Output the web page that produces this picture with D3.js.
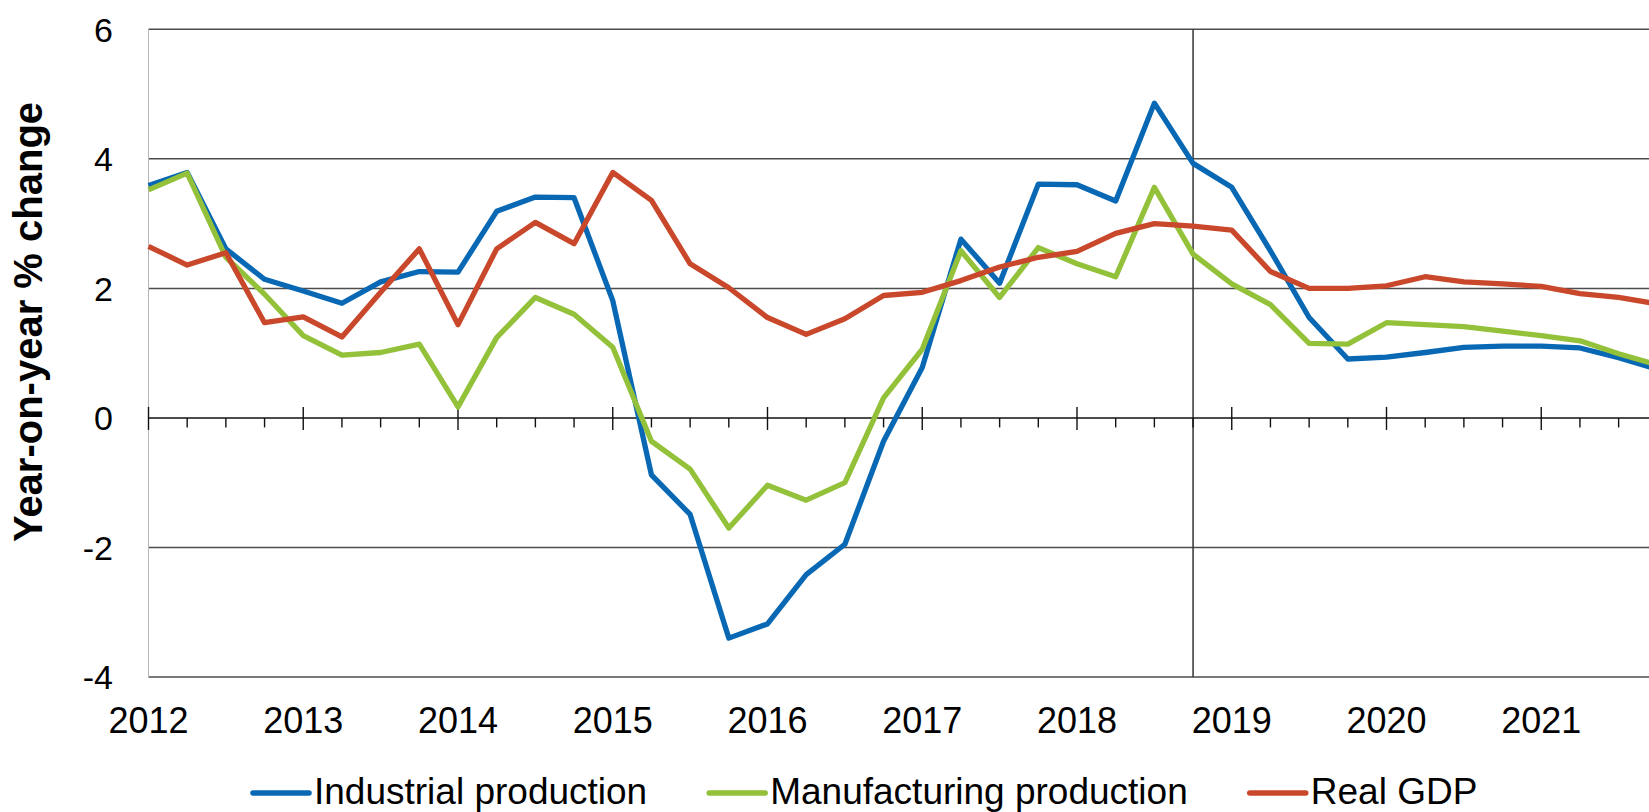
<!DOCTYPE html>
<html>
<head>
<meta charset="utf-8">
<script src="https://cdn.jsdelivr.net/npm/d3@7"></script>
<style>
  body { margin: 0; background: #fff; overflow: hidden; }
  svg { display: block; font-family: "Liberation Sans", Arial, sans-serif; }
</style>
</head>
<body>
<div id="chart-area"></div>
<script>
// quarterly data, 2012 Q1 .. 2021 Q4
const startYear = 2012;
const years = [2012, 2013, 2014, 2015, 2016, 2017, 2018, 2019, 2020, 2021];
const yTicks = [-4, -2, 0, 2, 4, 6];
const forecastStart = 2018.75;

const industrial = [3.59, 3.79, 2.61, 2.14, 1.96, 1.77, 2.10, 2.26, 2.25, 3.19,
  3.41, 3.40, 1.81, -0.88, -1.49, -3.40, -3.18, -2.42, -1.95, -0.36,
  0.78, 2.76, 2.08, 3.61, 3.60, 3.35, 4.86, 3.93, 3.56, 2.58,
  1.55, 0.91, 0.94, 1.01, 1.09, 1.11, 1.11, 1.08, 0.93, 0.75];
const manufacturing = [3.52, 3.78, 2.48, 1.91, 1.27, 0.97, 1.01, 1.14, 0.17, 1.24,
  1.86, 1.60, 1.09, -0.36, -0.79, -1.70, -1.04, -1.27, -1.00, 0.31,
  1.06, 2.58, 1.86, 2.63, 2.38, 2.18, 3.56, 2.53, 2.07, 1.75,
  1.15, 1.14, 1.47, 1.44, 1.41, 1.34, 1.27, 1.19, 0.99, 0.82];
const realGdp = [2.65, 2.36, 2.55, 1.47, 1.56, 1.25, 1.94, 2.61, 1.44, 2.61,
  3.02, 2.69, 3.79, 3.36, 2.38, 2.01, 1.55, 1.29, 1.53, 1.89,
  1.94, 2.12, 2.33, 2.48, 2.57, 2.85, 3.00, 2.96, 2.90, 2.26,
  2.00, 2.00, 2.04, 2.18, 2.10, 2.07, 2.03, 1.92, 1.86, 1.76];

const seriesNames = ["Industrial production", "Manufacturing production", "Real GDP"];
const seriesColors = ["#0868b4", "#93c13a", "#c9472a"];
const seriesValues = [industrial, manufacturing, realGdp];

const W = 1649, H = 812;

const svg = d3.select("#chart-area")
  .append("svg")
  .attr("width", W)
  .attr("height", H);

const x = d3.scaleLinear()
  .domain([2012, 2022])
  .range([148.5, 1696]);

const y = d3.scaleLinear()
  .domain([-4, 6])
  .range([677, 29.3]);

const xEnd = W;

// horizontal gridlines
svg.append("g")
  .selectAll("line")
  .data(yTicks.filter(d => d !== 0))
  .enter()
  .append("line")
  .attr("x1", x(2012))
  .attr("x2", xEnd)
  .attr("y1", d => y(d))
  .attr("y2", d => y(d))
  .attr("stroke", "#4d4d4d")
  .attr("stroke-width", 1.5);

// left axis line (light)
svg.append("line")
  .attr("x1", x(2012)).attr("x2", x(2012))
  .attr("y1", y(6)).attr("y2", y(-4))
  .attr("stroke", "#b5b5b5")
  .attr("stroke-width", 1);

// forecast divider
svg.append("line")
  .attr("x1", x(forecastStart)).attr("x2", x(forecastStart))
  .attr("y1", y(6)).attr("y2", y(-4))
  .attr("stroke", "#333")
  .attr("stroke-width", 1.5);

// y tick labels
svg.append("g")
  .selectAll("text")
  .data(yTicks)
  .enter()
  .append("text")
  .attr("x", 113)
  .attr("y", d => y(d))
  .attr("dy", "0.36em")
  .attr("text-anchor", "end")
  .style("font-size", "34px")
  .attr("fill", "#000")
  .text(d => d);

// y title
svg.append("text")
  .attr("transform", `translate(42,${322}) rotate(-90)`)
  .attr("text-anchor", "middle")
  .style("font-size", "40px")
  .style("font-weight", "bold")
  .attr("fill", "#000")
  .text("Year-on-year % change");

// zero line with quarter ticks
const y0 = y(0);
svg.append("line")
  .attr("x1", x(2012)).attr("x2", xEnd)
  .attr("y1", y0).attr("y2", y0)
  .attr("stroke", "#111")
  .attr("stroke-width", 1.5);

const quarters = d3.range(0, 40).map(i => startYear + i / 4);
svg.append("g")
  .selectAll("line")
  .data(quarters)
  .enter()
  .append("line")
  .attr("x1", d => x(d))
  .attr("x2", d => x(d))
  .attr("y1", d => Number.isInteger(d) ? y0 - 11 : y0)
  .attr("y2", d => Number.isInteger(d) ? y0 + 12 : y0 + 9.5)
  .attr("stroke", "#111")
  .attr("stroke-width", 1.4);

// x labels
svg.append("g")
  .selectAll("text")
  .data(years)
  .enter()
  .append("text")
  .attr("x", d => x(d))
  .attr("y", 733)
  .attr("text-anchor", "middle")
  .style("font-size", "36px")
  .attr("fill", "#000")
  .text(d => d);

// series lines
const line = d3.line()
  .x((d, i) => x(startYear + i / 4))
  .y(d => y(d));

svg.append("g")
  .selectAll("path")
  .data(seriesValues)
  .enter()
  .append("path")
  .attr("d", d => line(d))
  .attr("fill", "none")
  .attr("stroke", (d, i) => seriesColors[i])
  .attr("stroke-width", 5.3)
  .attr("stroke-linejoin", "round");

// legend
const legend = svg.append("g").attr("class", "legend");
let lx = 253;
const legendY = 793;
seriesNames.forEach((name, i) => {
  legend.append("line")
    .attr("x1", lx).attr("x2", lx + 56)
    .attr("y1", legendY).attr("y2", legendY)
    .attr("stroke", seriesColors[i])
    .attr("stroke-width", 5.5)
    .attr("stroke-linecap", "round");
  const t = legend.append("text")
    .attr("x", lx + 61)
    .attr("y", 804)
    .style("font-size", "37px")
    .attr("fill", "#000")
    .text(name);
  lx = lx + 61 + t.node().getComputedTextLength() + 62;
});
</script>
</body>
</html>
